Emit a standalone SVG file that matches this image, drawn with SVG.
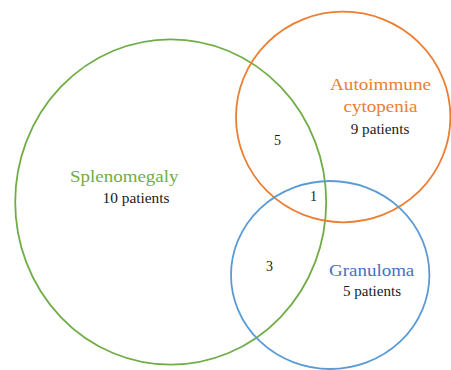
<svg xmlns="http://www.w3.org/2000/svg" width="451" height="370" viewBox="0 0 451 370" font-family="Liberation Serif, serif">
<style>
.set{fill:none;stroke-width:1.8}
.title{font-size:17px}
.num{font-size:14px;fill:#1a1a1a}
</style>
<rect width="451" height="370" fill="#ffffff"/>
<g id="connectors"></g>
<g id="splenomegaly">
<ellipse class="set" cx="170.7" cy="202" rx="155.5" ry="162.7" stroke="#70AD47"/>
<text class="title" font-family="Liberation Serif" x="70" y="181.5" textLength="108.5" lengthAdjust="spacingAndGlyphs" fill="#70AD47">Splenomegaly</text>
<text class="num" font-family="Liberation Serif" x="102.5" y="203" textLength="67" lengthAdjust="spacingAndGlyphs">10 patients</text>
</g>
<g id="autoimmune-cytopenia">
<ellipse class="set" cx="343.2" cy="117" rx="107.2" ry="105.3" stroke="#ED7D31"/>
<text class="title" font-family="Liberation Serif" x="330" y="90" textLength="101" lengthAdjust="spacingAndGlyphs" fill="#ED7D31">Autoimmune</text>
<text class="title" font-family="Liberation Serif" x="343.5" y="111.5" textLength="74" lengthAdjust="spacingAndGlyphs" fill="#ED7D31">cytopenia</text>
<text class="num" font-family="Liberation Serif" x="350.7" y="133.5" textLength="58.6" lengthAdjust="spacingAndGlyphs">9 patients</text>
</g>
<g id="granuloma">
<ellipse class="set" cx="330.2" cy="275" rx="99.2" ry="94" stroke="#5B9BD5"/>
<text class="title" font-family="Liberation Serif" x="329" y="275.5" textLength="85.3" lengthAdjust="spacingAndGlyphs" fill="#4472C4">Granuloma</text>
<text class="num" font-family="Liberation Serif" x="343" y="295.5" textLength="58" lengthAdjust="spacingAndGlyphs">5 patients</text>
</g>
<g id="overlaps">
<text class="num" font-family="Liberation Serif" x="274" y="145">5</text>
<text class="num" font-family="Liberation Serif" x="310" y="201">1</text>
<text class="num" font-family="Liberation Serif" x="266" y="270.5">3</text>
</g>
</svg>
